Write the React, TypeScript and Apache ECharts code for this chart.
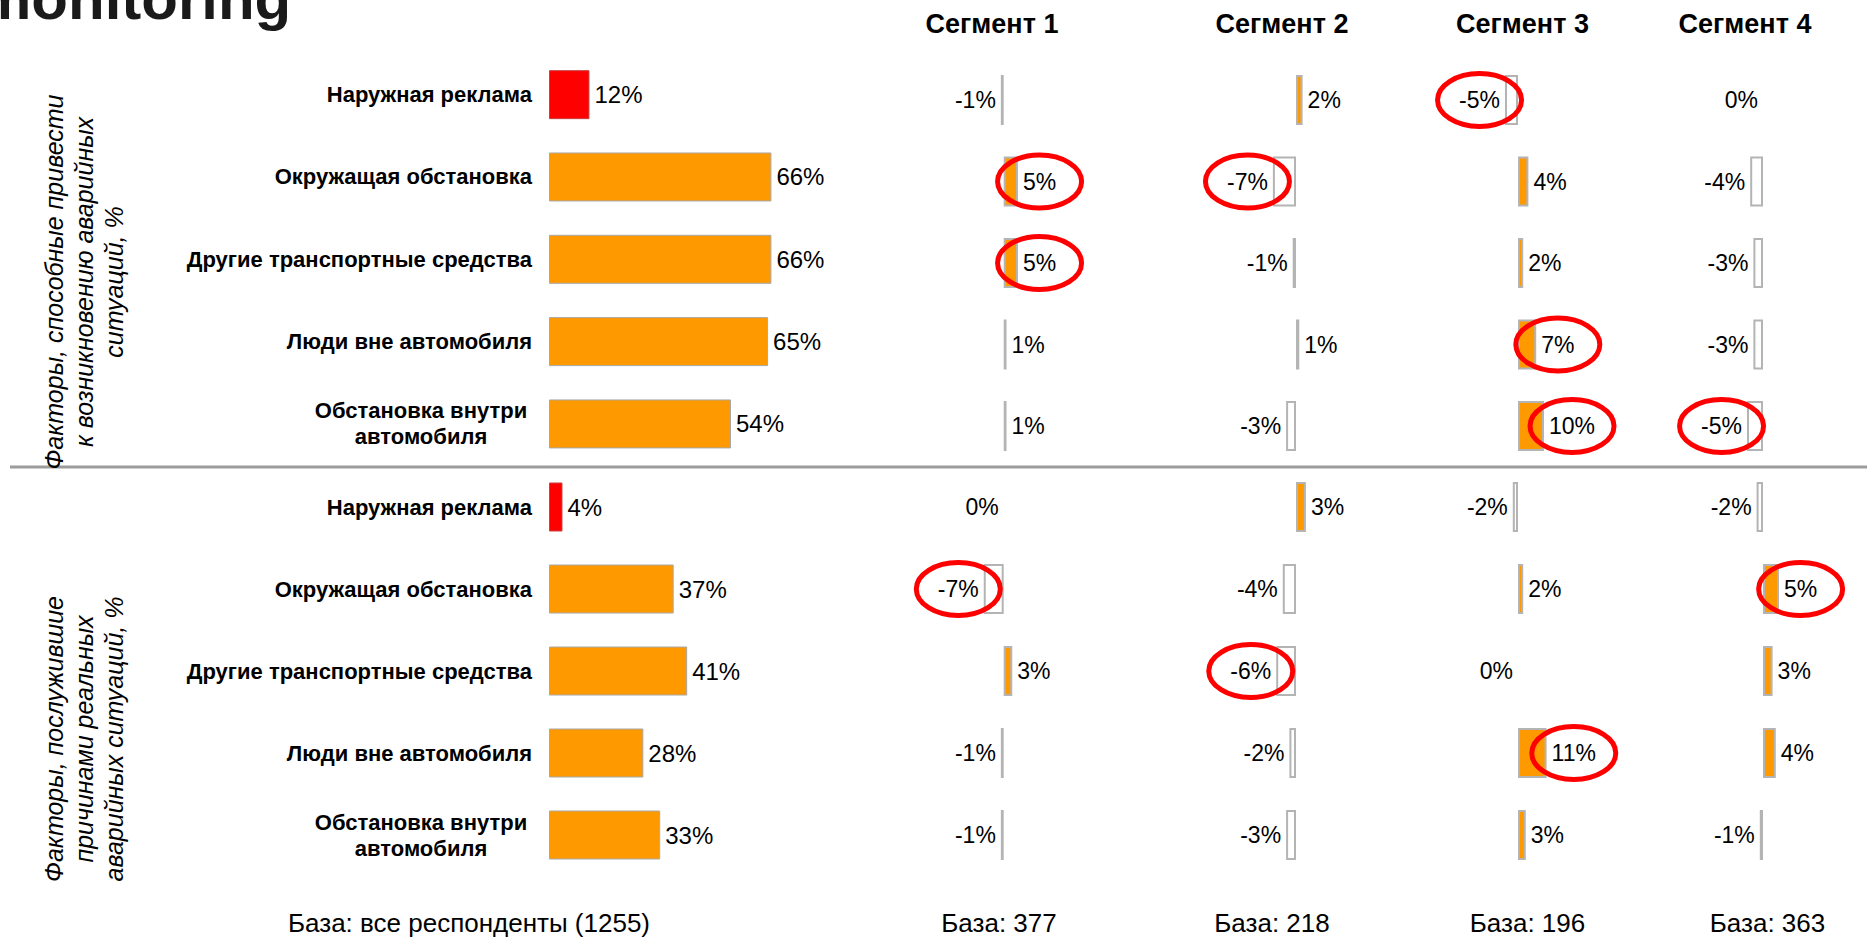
import React, { useEffect, useRef } from "react";
import * as echarts from "echarts";

// ---------- DATA ----------
const categories = [
  "Наружная реклама",
  "Окружащая обстановка",
  "Другие транспортные средства",
  "Люди вне автомобиля",
  "Обстановка внутри\nавтомобиля",
];
const blockTitles = [
  "Факторы, способные привести\nк возникновению аварийных\nситуаций, %",
  "Факторы, послужившие\nпричинами реальных\nаварийных ситуаций, %",
];
const totalTop = [12, 66, 66, 65, 54];
const totalBottom = [4, 37, 41, 28, 33];
const totalBase = 1255;

const segmentNames = ["Сегмент 1", "Сегмент 2", "Сегмент 3", "Сегмент 4"];
const segmentBases = [377, 218, 196, 363];

const seg1Top = [-1, 5, 5, 1, 1];
const seg2Top = [2, -7, -1, 1, -3];
const seg3Top = [-5, 4, 2, 7, 10];
const seg4Top = [0, -4, -3, -3, -5];

const seg1Bottom = [0, -7, 3, -1, -1];
const seg2Bottom = [3, -4, -6, -2, -3];
const seg3Bottom = [-2, 2, 0, 11, 3];
const seg4Bottom = [-2, 5, 3, 4, -1];

const highlightThreshold = 5; // |difference| >= 5 is circled

// ---------- LAYOUT / STYLE ----------
const W = 1867;
const H = 938;
const FONT = "Arial, 'Liberation Sans', sans-serif";
const RED = "#FF0000";
const ORANGE = "#FF9900";
const GRAY_BORDER = "#B4B4B4";

const mainLeft = 549;
const mainPxPerPct = 3.37;
const topMain = { top: 53.5, height: 411.6 };
const topSeg = { top: 59.25, height: 407.5 };
const bottomRows = { top: 466, height: 410 };
const segZeroX = [1003.7, 1296, 1518, 1763];
const segPxPerPct = [2.85, 3.3, 2.6, 3.2];
const segRange = 12;
const headerX = [992, 1282, 1522.5, 1745];
const baseX = [999, 1272, 1527.5, 1767.5];
const LABEL_DIST = 5;
const SEG_LABEL_SIZE = 23;
const CAT_SIZE = 22;

const pct = (v: number) => `${v}%`;

export default function App() {
  const ref = useRef<HTMLDivElement>(null);

  useEffect(() => {
    if (!ref.current) return;
    const chart = echarts.init(ref.current, undefined, { renderer: "svg" });

    const grids: any[] = [];
    const xAxes: any[] = [];
    const yAxes: any[] = [];
    const series: any[] = [];

    const catLabel = {
      show: true,
      margin: 17,
      color: "#000",
      fontSize: CAT_SIZE,
      fontWeight: "bold",
      fontFamily: FONT,
      lineHeight: 26,
      formatter: (v: string) =>
        v.includes("\n")
          ? v
              .split("\n")
              .map((l) => `{c|${l}}`)
              .join("\n")
          : v,
      rich: {
        c: {
          width: 222,
          align: "center",
          fontSize: CAT_SIZE,
          fontWeight: "bold",
          fontFamily: FONT,
          lineHeight: 26,
          color: "#000",
        },
      },
    };

    // main (total) blocks
    [
      { data: totalTop, g: topMain },
      { data: totalBottom, g: bottomRows },
    ].forEach(({ data, g }) => {
      const gi = grids.length;
      grids.push({ left: mainLeft, width: 100 * mainPxPerPct, top: g.top, height: g.height });
      xAxes.push({ type: "value", gridIndex: gi, min: 0, max: 100, show: false });
      yAxes.push({
        type: "category",
        gridIndex: gi,
        data: categories,
        inverse: true,
        axisLine: { show: false },
        axisTick: { show: false },
        splitLine: { show: false },
        axisLabel: catLabel,
      });
      series.push({
        type: "bar",
        xAxisIndex: gi,
        yAxisIndex: gi,
        barWidth: 49,
        data: data.map((v, i) => ({
          value: v,
          itemStyle: {
            color: i === 0 ? RED : ORANGE,
            borderColor: i === 0 ? "#C84040" : "#A8A8A8",
            borderWidth: 1,
          },
        })),
        label: {
          show: true,
          position: "right",
          distance: LABEL_DIST,
          formatter: (p: any) => pct(p.value),
          color: "#000",
          fontSize: 24,
          fontFamily: FONT,
        },
      });
    });

    // segment blocks
    const segBlocks = [
      { sets: [seg1Top, seg2Top, seg3Top, seg4Top], g: topSeg },
      { sets: [seg1Bottom, seg2Bottom, seg3Bottom, seg4Bottom], g: bottomRows },
    ];
    const segSeriesInfo: { seriesIndex: number; values: number[] }[] = [];
    segBlocks.forEach(({ sets, g }) => {
      sets.forEach((values, s) => {
        const gi = grids.length;
        const ppp = segPxPerPct[s];
        grids.push({
          left: segZeroX[s] - segRange * ppp,
          width: 2 * segRange * ppp,
          top: g.top,
          height: g.height,
        });
        xAxes.push({ type: "value", gridIndex: gi, min: -segRange, max: segRange, show: false });
        yAxes.push({
          type: "category",
          gridIndex: gi,
          data: categories,
          inverse: true,
          show: false,
        });
        segSeriesInfo.push({ seriesIndex: series.length, values });
        series.push({
          type: "bar",
          xAxisIndex: gi,
          yAxisIndex: gi,
          barWidth: 50,
          data: values.map((v) => ({
            value: v,
            itemStyle: {
              color: v > 0 ? ORANGE : "#FFFFFF",
              borderColor: GRAY_BORDER,
              borderWidth: v === 0 ? 0 : 2,
            },
            label: { position: v > 0 ? "right" : "left" },
          })),
          label: {
            show: true,
            distance: LABEL_DIST,
            formatter: (p: any) => pct(p.value),
            color: "#000",
            fontSize: SEG_LABEL_SIZE,
            fontFamily: FONT,
          },
        });
      });
    });

    chart.setOption({
      animation: false,
      backgroundColor: "#ffffff",
      textStyle: { fontFamily: FONT },
      grid: grids,
      xAxis: xAxes,
      yAxis: yAxes,
      series,
    });

    // static texts
    const graphics: any[] = [];
    graphics.push({
      type: "text",
      x: -22,
      y: 28,
      style: {
        text: "monitoring",
        font: `bold 60px ${FONT}`,
        fill: "#1a1a1a",
        textAlign: "left",
        textVerticalAlign: "bottom",
      },
    });
    graphics.push({
      type: "line",
      shape: { x1: 10, y1: 467, x2: W, y2: 467 },
      style: { stroke: "#9C9C9C", lineWidth: 3 },
    });
    const titleCenters = [282, 739];
    blockTitles.forEach((t, i) => {
      graphics.push({
        type: "text",
        x: 84,
        y: titleCenters[i],
        rotation: Math.PI / 2,
        style: {
          text: t,
          font: `italic 25px ${FONT}`,
          lineHeight: 30,
          fill: "#000",
          textAlign: "center",
          textVerticalAlign: "middle",
        },
      });
    });
    segmentNames.forEach((n, i) => {
      graphics.push({
        type: "text",
        x: headerX[i],
        y: 24,
        style: {
          text: n,
          font: `bold 27px ${FONT}`,
          fill: "#000",
          textAlign: "center",
          textVerticalAlign: "middle",
        },
      });
    });
    graphics.push({
      type: "text",
      x: 469,
      y: 923,
      style: {
        text: `База: все респонденты (${totalBase})`,
        font: `26px ${FONT}`,
        fill: "#000",
        textAlign: "center",
        textVerticalAlign: "middle",
      },
    });
    segmentBases.forEach((b, i) => {
      graphics.push({
        type: "text",
        x: baseX[i],
        y: 923,
        style: {
          text: `База: ${b}`,
          font: `26px ${FONT}`,
          fill: "#000",
          textAlign: "center",
          textVerticalAlign: "middle",
        },
      });
    });

    // red ellipses around significant differences
    const ctx = document.createElement("canvas").getContext("2d");
    if (ctx) ctx.font = `${SEG_LABEL_SIZE}px ${FONT}`;
    segSeriesInfo.forEach(({ seriesIndex, values }) => {
      values.forEach((v, i) => {
        if (Math.abs(v) < highlightThreshold) return;
        const pt = chart.convertToPixel({ seriesIndex }, [v, i]) as number[];
        if (!pt) return;
        const w = ctx ? ctx.measureText(pct(v)).width : 40;
        const dir = v > 0 ? 1 : -1;
        graphics.push({
          type: "ellipse",
          z: 100,
          shape: { cx: pt[0] + dir * (LABEL_DIST + w / 2), cy: pt[1], rx: 42, ry: 26.5 },
          style: { fill: "none", stroke: RED, lineWidth: 5 },
        });
      });
    });

    chart.setOption({ graphic: graphics });

    return () => chart.dispose();
  }, []);

  return (
    <div
      ref={ref}
      style={{ position: "absolute", left: 0, top: 0, width: W, height: H, background: "#fff" }}
    />
  );
}
